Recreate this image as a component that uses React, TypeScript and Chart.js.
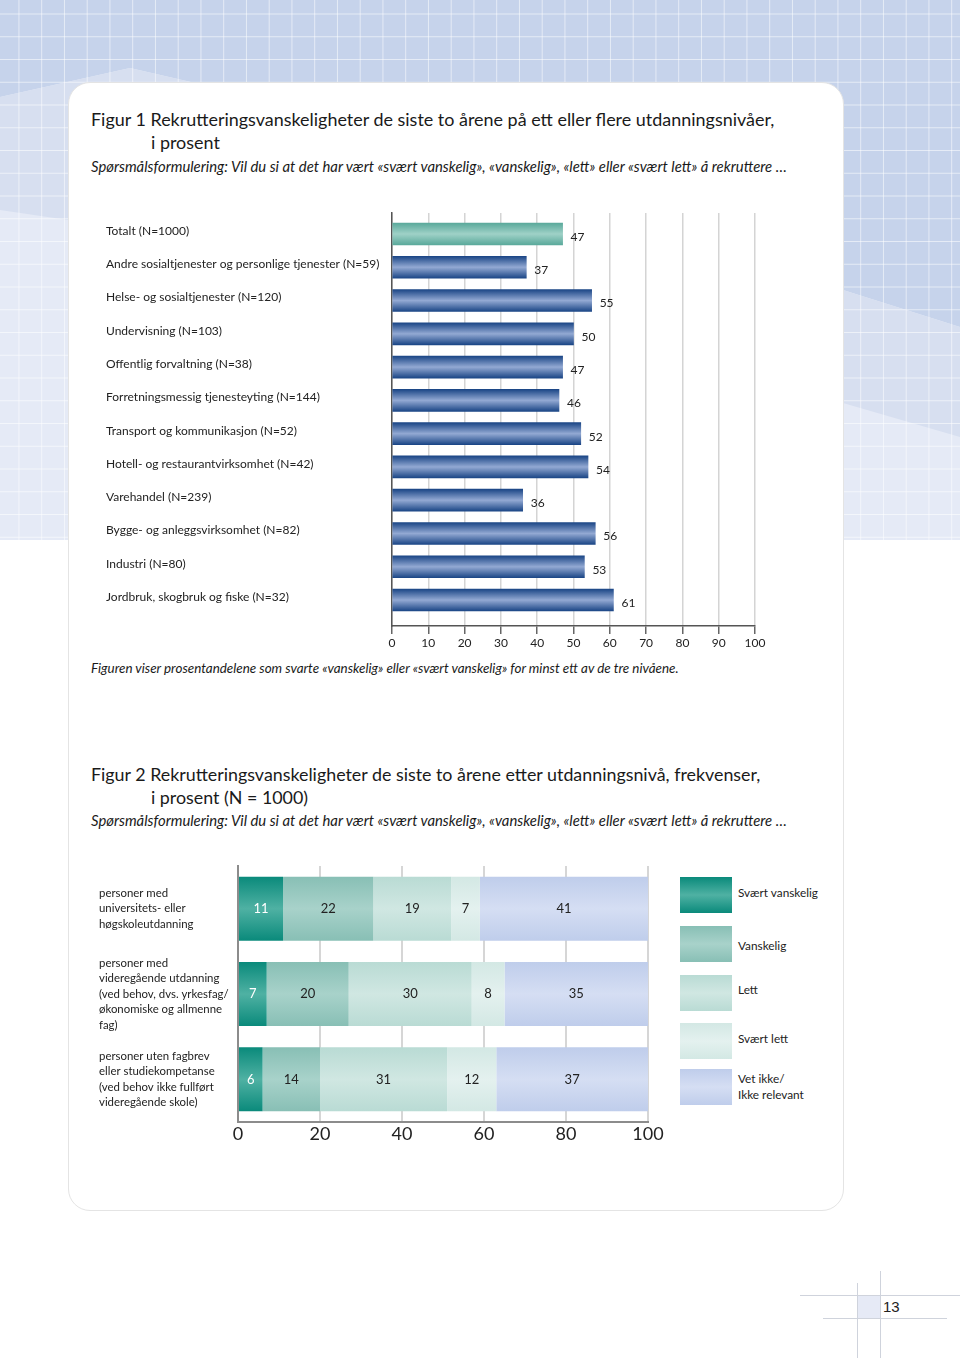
import React, { useEffect, useRef } from "react";
import { Chart, registerables } from "chart.js";

Chart.register(...registerables);

// ---------- Data ----------
const fig1Categories = [
  "Totalt (N=1000)",
  "Andre sosialtjenester og personlige tjenester (N=59)",
  "Helse- og sosialtjenester (N=120)",
  "Undervisning (N=103)",
  "Offentlig forvaltning (N=38)",
  "Forretningsmessig tjenesteyting (N=144)",
  "Transport og kommunikasjon (N=52)",
  "Hotell- og restaurantvirksomhet (N=42)",
  "Varehandel (N=239)",
  "Bygge- og anleggsvirksomhet (N=82)",
  "Industri (N=80)",
  "Jordbruk, skogbruk og fiske (N=32)",
];
const fig1Values = [47, 37, 55, 50, 47, 46, 52, 54, 36, 56, 53, 61];
const fig1TickStep = 10;

const fig2Categories = [
  ["personer med", "universitets- eller", "høgskoleutdanning"],
  ["personer med", "videregående utdanning", "(ved behov, dvs. yrkesfag/", "økonomiske og allmenne", "fag)"],
  ["personer uten fagbrev", "eller studiekompetanse", "(ved behov ikke fullført", "videregående skole)"],
];
const fig2SeriesNames = ["Svært vanskelig", "Vanskelig", "Lett", "Svært lett", "Vet ikke/\nIkke relevant"];
const svaertVanskelig = [11, 7, 6];
const vanskelig = [22, 20, 14];
const lett = [19, 30, 31];
const svaertLett = [7, 8, 12];
const vetIkke = [41, 35, 37];
const fig2TickStep = 20;

// ---------- Styles ----------
const FONT = "Lato, 'Open Sans', sans-serif";
const fig2Colors = [
  ["#0a8a7b", "#4fb1a3"],
  ["#88bfb5", "#a8d2ca"],
  ["#b9dbd4", "#d0e7e2"],
  ["#d3e8e4", "#e4f1ef"],
  ["#bfcdeb", "#d5def3"],
];

function vGrad(ctx: CanvasRenderingContext2D, top: number, bottom: number, edge: string, mid: string) {
  if (!Number.isFinite(top) || !Number.isFinite(bottom)) return edge;
  const g = ctx.createLinearGradient(0, top, 0, bottom);
  g.addColorStop(0, edge);
  g.addColorStop(0.5, mid);
  g.addColorStop(1, edge);
  return g;
}

function Figure1() {
  const ref = useRef<HTMLCanvasElement>(null);
  useEffect(() => {
    const canvas = ref.current!;
    const barH = 22;
    const valueLabels = {
      id: "valueLabels",
      afterDatasetsDraw(chart: any) {
        const ctx = chart.ctx;
        const meta = chart.getDatasetMeta(0);
        ctx.save();
        ctx.font = `12px ${FONT}`;
        ctx.fillStyle = "#222";
        ctx.textAlign = "left";
        ctx.textBaseline = "middle";
        meta.data.forEach((bar: any, i: number) => {
          ctx.fillText(String(fig1Values[i]), bar.x + 8, bar.y + 3);
        });
        ctx.restore();
      },
    };
    const chart = new Chart(canvas, {
      type: "bar",
      data: {
        datasets: [
          {
            data: fig1Values.map((v, i) => ({ x: v, y: i })),
            barThickness: barH,
            borderWidth: 0,
            backgroundColor: (c: any) => {
              const ch = c.chart;
              const y = ch.scales?.y;
              if (!y || c.dataIndex === undefined) return "#2c5a98";
              const py = y.getPixelForValue(c.dataIndex);
              if (c.dataIndex === 0) return vGrad(ch.ctx, py - barH / 2, py + barH / 2, "#5aa99b", "#9fd1c7");
              return vGrad(ch.ctx, py - barH / 2, py + barH / 2, "#1b4686", "#93a9d3");
            },
          },
        ],
      },
      options: {
        animation: false,
        responsive: false,
        indexAxis: "y",
        layout: { padding: { left: 6, right: 25, top: 8, bottom: 0 } },
        plugins: { legend: { display: false }, tooltip: { enabled: false } },
        scales: {
          x: {
            type: "linear",
            min: 0,
            max: 100,
            ticks: { stepSize: fig1TickStep, font: { size: 12, family: FONT }, color: "#222", padding: 2 },
            grid: { color: "#d4d4d4", lineWidth: 1.5, tickLength: 8, tickColor: "#666", tickWidth: 1.5 },
            border: { color: "#555", width: 1.5 },
            afterFit: (s: any) => { s.height = 30; s.paddingLeft = 0; s.paddingRight = 0; },
          },
          y: {
            type: "linear",
            reverse: true,
            offset: false,
            min: -0.63,
            max: 11.78,
            afterBuildTicks: (s: any) => { s.ticks = fig1Categories.map((_, i) => ({ value: i })); },
            ticks: {
              autoSkip: false,
              crossAlign: "far",
              labelOffset: -3,
              font: { size: 12, family: FONT },
              color: "#222",
              callback: (v: any) => fig1Categories[v] ?? "",
            },
            grid: { display: false, offset: false },
            border: { display: true, color: "#555", width: 1.5 },
            afterFit: (s: any) => { s.width = 286; s.paddingTop = 0; s.paddingBottom = 0; },
          },
        },
      },
      plugins: [valueLabels],
    } as any);
    return () => chart.destroy();
  }, []);
  return <canvas ref={ref} width={680} height={451} style={{ position: "absolute", left: 100, top: 205, width: 680, height: 451 }} />;
}

function Figure2() {
  const ref = useRef<HTMLCanvasElement>(null);
  useEffect(() => {
    const canvas = ref.current!;
    const series = [svaertVanskelig, vanskelig, lett, svaertLett, vetIkke];
    const segLabels = {
      id: "segLabels",
      afterDatasetsDraw(chart: any) {
        const ctx = chart.ctx;
        ctx.save();
        ctx.font = `13px ${FONT}`;
        ctx.textAlign = "center";
        ctx.textBaseline = "middle";
        series.forEach((vals, di) => {
          const meta = chart.getDatasetMeta(di);
          ctx.fillStyle = di === 0 ? "#ffffff" : "#222";
          meta.data.forEach((bar: any, i: number) => {
            ctx.fillText(String(vals[i]), (bar.x + bar.base) / 2, bar.y);
          });
        });
        ctx.restore();
      },
    };
    const chart = new Chart(canvas, {
      type: "bar",
      data: {
        labels: fig2Categories,
        datasets: series.map((vals, di) => ({
          label: fig2SeriesNames[di],
          data: vals,
          borderWidth: 0,
          categoryPercentage: 1,
          barPercentage: 0.75,
          backgroundColor: (c: any) => {
            const ch = c.chart;
            const y = ch.scales?.y;
            if (!y || c.dataIndex === undefined) return fig2Colors[di][0];
            const py = y.getPixelForValue(c.dataIndex);
            return vGrad(ch.ctx, py - 32, py + 32, fig2Colors[di][0], fig2Colors[di][1]);
          },
        })),
      },
      options: {
        animation: false,
        responsive: false,
        indexAxis: "y",
        layout: { padding: { left: 9, right: 22, top: 6, bottom: 0 } },
        plugins: { legend: { display: false }, tooltip: { enabled: false } },
        scales: {
          x: {
            stacked: true,
            min: 0,
            max: 100,
            ticks: { stepSize: fig2TickStep, font: { size: 18, family: FONT }, color: "#222", padding: 1 },
            grid: { color: "#d6d6d6", lineWidth: 2, drawTicks: false },
            border: { color: "#8c8c8c", width: 2 },
            afterFit: (s: any) => { s.height = 26; s.paddingLeft = 0; s.paddingRight = 0; },
          },
          y: {
            stacked: true,
            ticks: { crossAlign: "far", font: { size: 11.4, family: FONT, lineHeight: "15.5px" }, color: "#222", autoSkip: false },
            grid: { display: false },
            border: { display: true, color: "#8c8c8c", width: 2 },
            afterFit: (s: any) => { s.width = 139; s.paddingTop = 0; s.paddingBottom = 0; },
          },
        },
      },
      plugins: [segLabels],
    } as any);
    return () => chart.destroy();
  }, []);
  return <canvas ref={ref} width={580} height={288} style={{ position: "absolute", left: 90, top: 860, width: 580, height: 288 }} />;
}

function Legend2() {
  const tops = [877, 926, 975, 1023, 1069];
  const textTops = [885, 938, 982, 1031, 1071];
  return (
    <>
      {fig2SeriesNames.map((name, i) => (
        <React.Fragment key={name}>
          <div
            style={{
              position: "absolute",
              left: 680,
              top: tops[i],
              width: 52,
              height: 36,
              background: `linear-gradient(${fig2Colors[i][0]}, ${fig2Colors[i][1]} 50%, ${fig2Colors[i][0]})`,
            }}
          />
          <div
            style={{
              position: "absolute",
              left: 738,
              top: textTops[i],
              fontFamily: FONT,
              fontSize: 11.8,
              lineHeight: "15.5px",
              color: "#222",
              whiteSpace: "pre",
            }}
          >
            {name}
          </div>
        </React.Fragment>
      ))}
    </>
  );
}

function Background() {
  const lines: any[] = [];
  for (let x = 18.95 - 22.75; x < 960; x += 22.75) {
    lines.push(<line key={"v" + x} x1={x} y1={0} x2={x} y2={540} stroke="#ffffff" strokeOpacity={0.55} strokeWidth={1} />);
  }
  for (let y = 14 - 22.75; y < 540; y += 22.75) {
    lines.push(<line key={"h" + y} x1={0} y1={y} x2={960} y2={y} stroke="#ffffff" strokeOpacity={0.55} strokeWidth={1} />);
  }
  return (
    <svg width={960} height={560} style={{ position: "absolute", left: 0, top: 0 }}>
      <rect x={0} y={0} width={960} height={540} fill="#e5eaf6" />
      <path d="M0,0 H960 V327 L843,290 L400,130 L130,68 L0,97 Z" fill="#c6d3eb" />
      <path d="M0,97 L130,68 L400,130 L843,290 L960,327 V437 L843,403 L400,300 L68,220 L0,210 Z" fill="#d7dff0" />
      {lines}
    </svg>
  );
}

const titleStyle: React.CSSProperties = {
  position: "absolute",
  left: 91,
  fontFamily: FONT,
  fontSize: 17.95,
  lineHeight: "23px",
  color: "#1a1a1a",
  whiteSpace: "pre",
};
const subStyle: React.CSSProperties = {
  position: "absolute",
  left: 91,
  fontFamily: FONT,
  fontStyle: "italic",
  fontSize: 14.85,
  lineHeight: "18px",
  color: "#1a1a1a",
  whiteSpace: "pre",
};

export default function App() {
  return (
    <div style={{ position: "absolute", left: 0, top: 0, width: 960, height: 1358, background: "#fff", overflow: "hidden" }}>
      <Background />
      <div
        style={{
          position: "absolute",
          left: 68,
          top: 82,
          width: 774,
          height: 1127,
          background: "#fff",
          border: "1px solid #e4e4e4",
          borderRadius: 22,
        }}
      />
      <div style={{ ...titleStyle, top: 108 }}>
        {"Figur 1 Rekrutteringsvanskeligheter de siste to årene på ett eller flere utdanningsnivåer,"}
      </div>
      <div style={{ ...titleStyle, top: 131, left: 151 }}>{"i prosent"}</div>
      <div style={{ ...subStyle, top: 157 }}>
        {"Spørsmålsformulering: Vil du si at det har vært «svært vanskelig», «vanskelig», «lett» eller «svært lett» å rekruttere …"}
      </div>
      <Figure1 />
      <div style={{ ...subStyle, top: 659, fontSize: 13.4 }}>
        {"Figuren viser prosentandelene som svarte «vanskelig» eller «svært vanskelig» for minst ett av de tre nivåene."}
      </div>

      <div style={{ ...titleStyle, top: 763, fontSize: 17.85 }}>
        {"Figur 2 Rekrutteringsvanskeligheter de siste to årene etter utdanningsnivå, frekvenser,"}
      </div>
      <div style={{ ...titleStyle, top: 786, left: 151, fontSize: 17.85 }}>{"i prosent (N = 1000)"}</div>
      <div style={{ ...subStyle, top: 811 }}>
        {"Spørsmålsformulering: Vil du si at det har vært «svært vanskelig», «vanskelig», «lett» eller «svært lett» å rekruttere …"}
      </div>
      <Figure2 />
      <Legend2 />

      {/* page number decoration */}
      <div style={{ position: "absolute", left: 857, top: 1295, width: 23, height: 23, background: "#e6eaf6" }} />
      <div style={{ position: "absolute", left: 857, top: 1283, width: 1, height: 75, background: "#cfd3dc" }} />
      <div style={{ position: "absolute", left: 880, top: 1271, width: 1, height: 87, background: "#cfd3dc" }} />
      <div style={{ position: "absolute", left: 800, top: 1295, width: 160, height: 1, background: "#cfd3dc" }} />
      <div style={{ position: "absolute", left: 823, top: 1318, width: 124, height: 1, background: "#cfd3dc" }} />
      <div style={{ position: "absolute", left: 883, top: 1298, fontFamily: "'Liberation Sans', Arial, sans-serif", fontSize: 15, lineHeight: "18px", color: "#222" }}>13</div>
    </div>
  );
}
